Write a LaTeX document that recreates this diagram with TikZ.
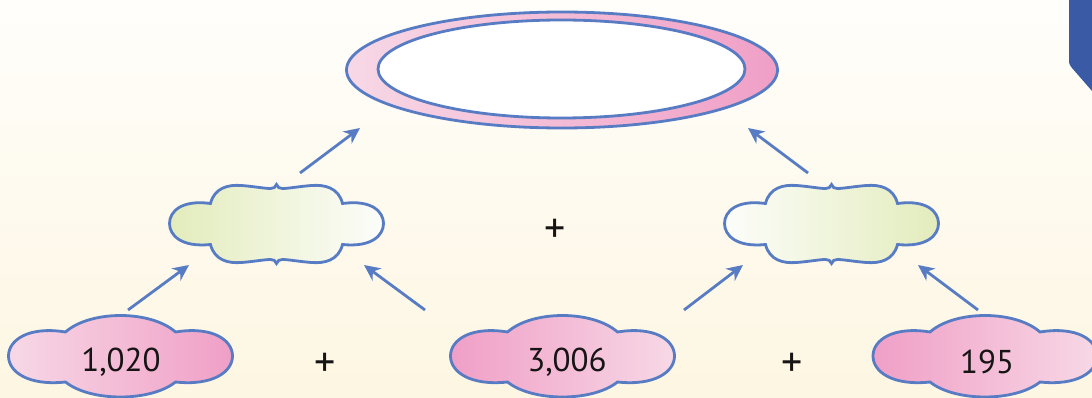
\documentclass[tikz,border=0pt]{standalone}
\usepackage{fontspec}
\setmainfont{PT Sans}
\usetikzlibrary{arrows.meta,shapes.geometric}
\definecolor{lineblue}{RGB}{88,124,196}
\definecolor{tabblue}{RGB}{58,90,166}
\definecolor{pinkdark}{RGB}{240,159,198}
\definecolor{pinklight}{RGB}{247,216,230}
\definecolor{greenlight}{RGB}{227,236,188}
\definecolor{greenwhite}{RGB}{252,253,250}
\definecolor{bgtop}{RGB}{255,254,251}
\definecolor{bgbottom}{RGB}{253,246,226}
\definecolor{inkblack}{RGB}{22,20,20}
\tikzset{
  outline/.style={draw=lineblue, line width=2.8pt},
  arrowline/.style={draw=lineblue, line width=2.8pt,
    -{Stealth[length=16pt,width=15pt,inset=5pt]}},
  numtext/.style={text=inkblack, font=\fontsize{33}{38}\selectfont, inner sep=0pt},
  plustext/.style={text=inkblack, font=\fontsize{42}{46}\selectfont, inner sep=0pt},
  pics/pinkcloud/.style 2 args={code={
    \path[outline, left color=#1, right color=#2]
      (-55,-24) .. controls (-92,-30) and (-112,-16) .. (-112,0)
      .. controls (-112,16) and (-92,30) .. (-55,26)
      .. controls (-30,46) and (30,46) .. (55,26)
      .. controls (92,30) and (112,16) .. (112,0)
      .. controls (112,-16) and (92,-30) .. (55,-24)
      .. controls (30,-46) and (-30,-46) .. (-55,-24) -- cycle;
  }},
  pics/greencloud/.style 2 args={code={
    \path[outline, left color=#1, right color=#2]
      (-66,-20) .. controls (-62,-36) and (-48,-39) .. (-35,-38)
      .. controls (-22,-37) and (-12,-35) .. (-6,-35)
      .. controls (-3,-35) and (-1,-36) .. (0,-39)
      .. controls (1,-36) and (3,-35) .. (6,-35)
      .. controls (12,-35) and (22,-37) .. (35,-38)
      .. controls (48,-39) and (62,-36) .. (66,-20)
      .. controls (95,-24) and (107,-12) .. (107,0)
      .. controls (107,12) and (95,24) .. (66,21)
      .. controls (62,37) and (48,40) .. (35,39)
      .. controls (22,38) and (12,36) .. (6,36)
      .. controls (3,36) and (1,37) .. (0,40)
      .. controls (-1,37) and (-3,36) .. (-6,36)
      .. controls (-12,36) and (-22,38) .. (-35,39)
      .. controls (-48,40) and (-62,37) .. (-66,21)
      .. controls (-95,24) and (-107,12) .. (-107,0)
      .. controls (-107,-12) and (-95,-24) .. (-66,-20) -- cycle;
  }}
}
\begin{document}
\begin{tikzpicture}[x=1pt,y=-1pt]
\useasboundingbox (0,0) rectangle (1092,398);
% background
\path[top color=bgtop, bottom color=bgbottom] (0,0) rectangle (1092,398);
% blue tab
\path[fill=tabblue] (1069,0) -- (1069,60) .. controls (1069,64) and (1070,66) .. (1072,68) -- (1092,91) -- (1092,0) -- cycle;

% top ellipse
\node[ellipse, outline, left color=pinklight, right color=pinkdark,
  minimum width=431pt, minimum height=116pt, inner sep=0pt] (result) at (562,70) {};
\node[ellipse, outline, fill=white,
  minimum width=367pt, minimum height=98pt, inner sep=0pt] (resultin) at (561.5,69) {};

% green clouds
\coordinate (gL) at (276.5,223.5);
\coordinate (gR) at (831.5,223.5);
\pic at (gL) {greencloud={greenlight}{greenwhite}};
\pic at (gR) {greencloud={greenwhite}{greenlight}};

% pink clouds
\coordinate (pA) at (120.5,356);
\coordinate (pB) at (562.5,356);
\coordinate (pC) at (985,356);
\pic at (pA) {pinkcloud={pinklight}{pinkdark}};
\pic at (pB) {pinkcloud={pinkdark}{pinklight}};
\pic at (pC) {pinkcloud={pinkdark}{pinklight}};

% numbers
\node[numtext] (nA) at (121,362) {1,020};
\node[numtext] (nB) at (567,362) {3,006};
\node[numtext] (nC) at (987,362) {195};

% plus signs
\node[plustext] (plusM) at (555,231) {+};
\node[plustext] (plusL) at (325,365) {+};
\node[plustext] (plusR) at (792,365) {+};

% arrow endpoints
\coordinate (a1s) at (300,173); \coordinate (a1e) at (360,128);
\coordinate (a2s) at (808,173); \coordinate (a2e) at (748,128);
\coordinate (a3s) at (128,310); \coordinate (a3e) at (189,265);
\coordinate (a4s) at (425,310); \coordinate (a4e) at (364,265);
\coordinate (a5s) at (684,310); \coordinate (a5e) at (743,265);
\coordinate (a6s) at (978,310); \coordinate (a6e) at (918,265);
\draw[arrowline] (a1s) -- (a1e);
\draw[arrowline] (a2s) -- (a2e);
\draw[arrowline] (a3s) -- (a3e);
\draw[arrowline] (a4s) -- (a4e);
\draw[arrowline] (a5s) -- (a5e);
\draw[arrowline] (a6s) -- (a6e);
\end{tikzpicture}
\end{document}
